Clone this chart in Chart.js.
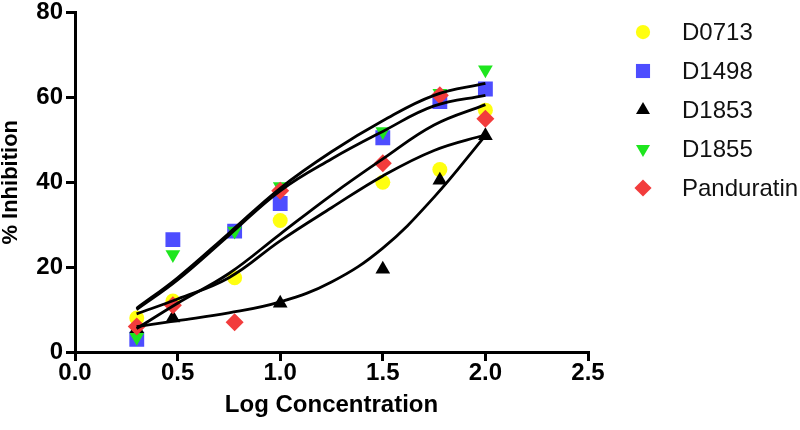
<!DOCTYPE html>
<html>
<head>
<meta charset="utf-8">
<script src="https://cdn.jsdelivr.net/npm/chart.js@4.4.1/dist/chart.umd.min.js"></script>
<style>
  html, body { margin: 0; padding: 0; background: #fff; }
  #wrap { width: 800px; height: 430px; }
</style>
</head>
<body>
<div id="wrap"><canvas id="chart"></canvas></div>
<script>
// measured points (log concentration vs % inhibition)
const logConc = [0.301, 0.477, 0.778, 1.0, 1.5, 1.778, 2.0];
const d0713 = [8, 12, 17.5, 31, 40, 43, 57];
const d1498 = [3, 26.5, 28.5, 35, 50.5, 59, 62];
const d1853 = [5.5, 8, null, 11.5, 19.5, 40.5, 51];
const d1855 = [3.5, 23, 28.5, 39, 52, 61, 66.5];
const panduratin = [6, 11, 7, 38, 44.5, 60.5, 55];

// fitted curves
const fitX = [0.3, 0.5, 0.75, 1.0, 1.25, 1.5, 1.75, 2.0];
const fitD0713 = [9, 12.5, 17.5, 26.2, 34, 41.5, 47.5, 51.2];
const fitD1498 = [10, 17, 27.5, 38, 45.5, 52, 58, 60.5];
const fitD1853 = [6, 7.4, 9.2, 11.8, 16.5, 24.5, 36.5, 51];
const fitD1855 = [10.3, 17.5, 28, 38.6, 47.2, 54.5, 60.5, 63.3];
const fitPanduratin = [5.5, 11.5, 18.5, 27.8, 37, 45.5, 53.5, 58.3];

const yTicks = [0, 20, 40, 60, 80];
const xTicks = [0.0, 0.5, 1.0, 1.5, 2.0, 2.5];

const FONT = "'Liberation Sans', Arial, sans-serif";

function pts(xs, ys) {
  return xs.map((x, i) => ({ x: x, y: ys[i] }));
}

const series = [
  { label: 'D0713', values: d0713, fit: fitD0713, color: '#ffff10', style: 'circle', radius: 7.5, rotation: 0 },
  { label: 'D1498', values: d1498, fit: fitD1498, color: '#4d4dff', style: 'rect', radius: 10.5, rotation: 0 },
  { label: 'D1853', values: d1853, fit: fitD1853, color: '#000000', style: 'triangle', radius: 8.5, rotation: 0 },
  { label: 'D1855', values: d1855, fit: fitD1855, color: '#1ee61e', style: 'triangle', radius: 8.5, rotation: 180 },
  { label: 'Panduratin', values: panduratin, fit: fitPanduratin, color: '#f23c3c', style: 'rectRot', radius: 9, rotation: 0 }
];

const datasets = [];
series.forEach(s => {
  datasets.push({
    label: s.label + ' fit',
    data: pts(fitX, s.fit),
    showLine: true,
    borderColor: '#000',
    borderWidth: 2.8,
    pointRadius: 0,
    tension: 0.4,
    fill: false,
    order: 0
  });
});
series.forEach((s, i) => {
  datasets.push({
    label: s.label,
    data: pts(logConc, s.values),
    showLine: false,
    pointStyle: s.style,
    pointRotation: s.rotation,
    pointRadius: s.radius,
    pointBackgroundColor: s.color,
    pointBorderColor: s.color,
    pointBorderWidth: 0,
    order: 5 - i
  });
});

const legendPlugin = {
  id: 'sideLegend',
  afterDraw(chart) {
    const ctx = chart.ctx;
    ctx.save();
    series.forEach((s, i) => {
      const y = 32 + i * 39;
      ctx.fillStyle = s.color;
      ctx.strokeStyle = s.color;
      Chart.helpers.drawPoint(ctx, {
        pointStyle: s.style,
        rotation: s.rotation,
        radius: s.radius * 0.95,
        borderWidth: 0
      }, 643, y);
      ctx.fillStyle = '#111';
      ctx.font = '24px ' + FONT;
      ctx.textBaseline = 'middle';
      ctx.textAlign = 'left';
      ctx.fillText(s.label, 682, y + 1);
    });
    ctx.restore();
  }
};

const ctx = document.getElementById('chart').getContext('2d');
new Chart(ctx, {
  type: 'scatter',
  data: { datasets: datasets },
  plugins: [legendPlugin],
  options: {
    responsive: true,
    maintainAspectRatio: false,
    animation: false,
    layout: { padding: { top: 10, right: 212, bottom: 0, left: 0 } },
    plugins: {
      legend: { display: false },
      tooltip: { enabled: false }
    },
    scales: {
      x: {
        type: 'linear',
        min: 0,
        max: 2.5,
        afterBuildTicks(scale) { scale.ticks = xTicks.map(v => ({ value: v })); },
        afterFit(scale) { scale.height = 78; },
        border: { display: true, color: '#000', width: 3 },
        grid: { drawOnChartArea: false, drawTicks: true, tickLength: 9, color: '#000', lineWidth: 3 },
        ticks: {
          padding: 0,
          color: '#000',
          font: { family: FONT, size: 24, weight: 'bold', lineHeight: 1 },
          callback: v => v.toFixed(1)
        },
        title: {
          display: true,
          text: 'Log Concentration',
          color: '#000',
          font: { family: FONT, size: 24, weight: 'bold', lineHeight: 1.2 },
          padding: { top: 8, bottom: 10 }
        }
      },
      y: {
        type: 'linear',
        min: 0,
        max: 80,
        afterBuildTicks(scale) { scale.ticks = yTicks.map(v => ({ value: v })); },
        afterFit(scale) { scale.width = 75; },
        border: { display: true, color: '#000', width: 3 },
        grid: { drawOnChartArea: false, drawTicks: true, tickLength: 9, color: '#000', lineWidth: 3 },
        ticks: {
          padding: 3,
          color: '#000',
          font: { family: FONT, size: 24, weight: 'bold', lineHeight: 0.8 }
        },
        title: {
          display: true,
          text: '% Inhibition',
          color: '#000',
          font: { family: FONT, size: 22, weight: 'bold', lineHeight: 1 },
          padding: { top: 0, bottom: 0 }
        }
      }
    }
  }
});
</script>
</body>
</html>
